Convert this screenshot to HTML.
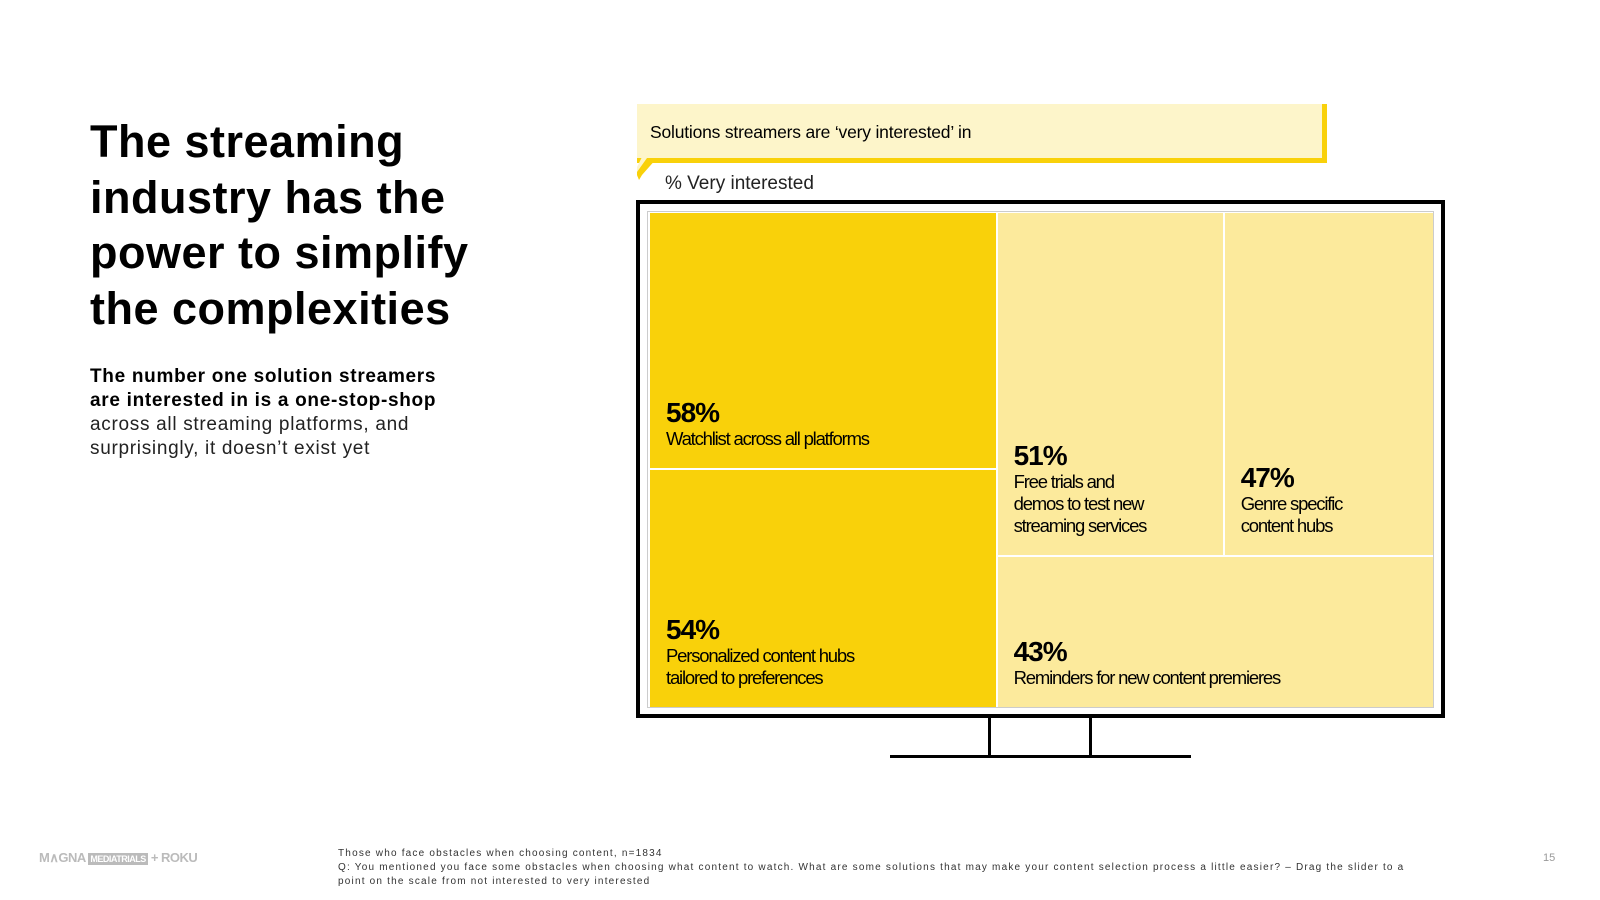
<!DOCTYPE html>
<html><head><meta charset="utf-8">
<style>
body{margin:0;width:1600px;height:900px;background:#fff;font-family:"Liberation Sans",sans-serif;position:relative;overflow:hidden;color:#000}
.abs{position:absolute}
#headline{left:90px;top:114px;font-size:45px;font-weight:bold;line-height:55.5px;letter-spacing:0.5px}
#sub{left:90px;top:365px;font-size:19px;line-height:24px;width:420px;white-space:nowrap;letter-spacing:0.7px}
#sub b{font-weight:bold}
#sub span{color:#222}
.cell{position:absolute;box-sizing:border-box}
.pct{font-size:28px;font-weight:bold;letter-spacing:-1px;line-height:30px}
.lbl{font-size:18.5px;line-height:22px;letter-spacing:-1.2px}
.cl{position:absolute;left:16px;bottom:18px}
#foot{left:338px;top:847px;font-size:10px;line-height:14px;color:#333;letter-spacing:1.2px;white-space:nowrap}
</style></head><body>
<div class="abs" id="headline">The streaming<br>industry has the<br>power to simplify<br>the complexities</div>
<div class="abs" id="sub"><b>The number one solution streamers<br>are interested in is a one-stop-shop</b><br><span>across all streaming platforms, and<br>surprisingly, it doesn’t exist yet</span></div>

<div class="abs" style="left:637px;top:104px;width:685px;height:54px;background:#FDF5CA;border-right:5px solid #F9D10A;border-bottom:5px solid #F9D10A"></div>
<svg class="abs" style="left:637px;top:155px" width="30" height="28"><polygon points="6,0 16,0 5,12 0,22 0,12" fill="#FDF5CA"/><polygon points="10,3 20,3 5,20 2,25 0,20 0,17" fill="#F9D10A"/></svg>
<div class="abs" style="left:650px;top:122px;font-size:17.5px;letter-spacing:-0.2px">Solutions streamers are ‘very interested’ in</div>
<div class="abs" style="left:665px;top:173px;font-size:19px;color:#222">% Very interested</div>

<div class="abs" style="left:636px;top:200px;width:801px;height:510px;border:4px solid #000"></div>
<div class="abs" style="left:647px;top:211px;width:787px;height:497px;border:1px solid #ccc;box-sizing:border-box"></div>
<div class="abs" id="tm" style="left:650px;top:213px;width:783px;height:494px"></div>
<div class="abs" style="left:988px;top:718px;width:3px;height:38px;background:#000"></div>
<div class="abs" style="left:1089px;top:718px;width:3px;height:38px;background:#000"></div>
<div class="abs" style="left:890px;top:755px;width:301px;height:3px;background:#000"></div>

<div class="abs" style="left:39px;top:850px;font-size:13px;font-weight:bold;color:#bbb;letter-spacing:-0.5px">M∧GNA <span style="background:#bbb;color:#fff;font-size:9px;padding:1px 2px">MEDIATRIALS</span> + ROKU</div>
<div class="abs" id="foot">Those who face obstacles when choosing content, n=1834<br>Q: You mentioned you face some obstacles when choosing what content to watch. What are some solutions that may make your content selection process a little easier? – Drag the slider to a<br>point on the scale from not interested to very interested</div>
<div class="abs" style="left:1543px;top:852px;font-size:11px;color:#999">15</div>

<script>
const values=[58,54,51,47,43];
const labels=["Watchlist across all platforms","Personalized content hubs<br>tailored to preferences","Free trials and<br>demos to test new<br>streaming services","Genre specific<br>content hubs","Reminders for new content premieres"];
const names=["cell-watchlist","cell-personalized-hubs","cell-free-trials","cell-genre-hubs","cell-reminders"];
const W=783,H=494,G=2;
const total=values.reduce((a,b)=>a+b,0);
const leftW=W*(values[0]+values[1])/total;
const rightW=W-leftW;
const rightSum=values[2]+values[3]+values[4];
const r0H=H*values[0]/(values[0]+values[1]);
const botH=H*values[4]/rightSum;
const topW=rightW*values[2]/(values[2]+values[3]);
const rects=[
 [0,0,leftW,r0H],[0,r0H,leftW,H-r0H],
 [leftW,0,topW,H-botH],[leftW+topW,0,rightW-topW,H-botH],
 [leftW,H-botH,rightW,botH]];
const tm=document.getElementById('tm');
rects.forEach((r,i)=>{
 const d=document.createElement('div');
 d.className='cell';
 
 
 d.style.left=(r[0]+(r[0]>0?G/2:0))+'px';
 d.style.top=(r[1]+(r[1]>0?G/2:0))+'px';
 d.style.width=(r[2]-(r[0]>0?G/2:0)-(r[0]+r[2]<W-1?G/2:0))+'px';
 d.style.height=(r[3]-(r[1]>0?G/2:0)-(r[1]+r[3]<H-1?G/2:0))+'px';
 d.style.background=i<2?'#F9D10A':'#FCEA9C';
 d.innerHTML='<div class="cl"><div class="pct">'+values[i]+'%</div><div class="lbl">'+labels[i]+'</div></div>';
 tm.appendChild(d);
});
</script>
</body></html>
